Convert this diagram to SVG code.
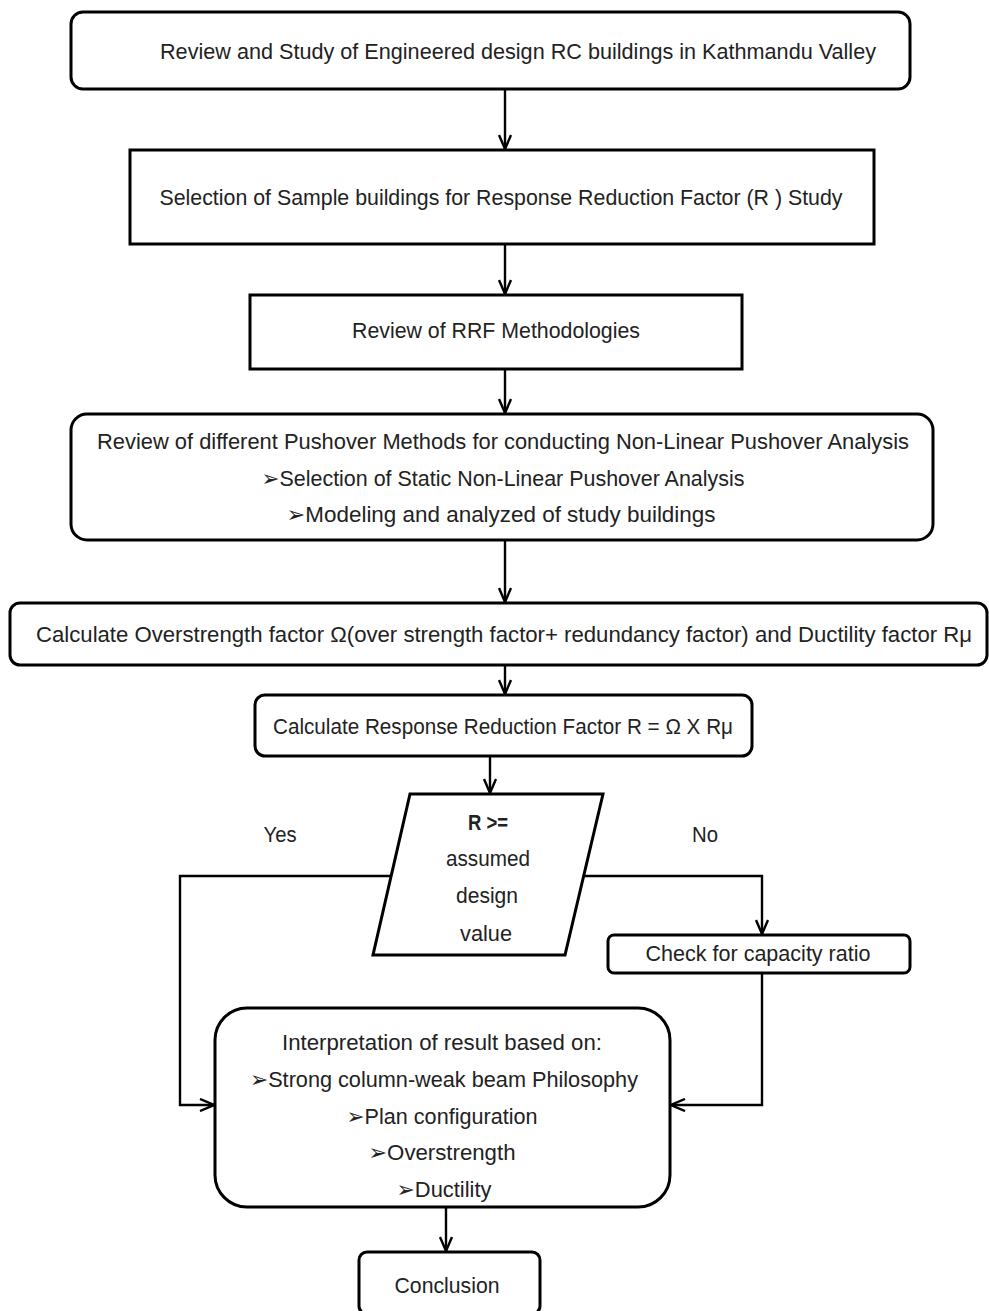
<svg xmlns="http://www.w3.org/2000/svg" width="989" height="1311" viewBox="0 0 989 1311">
<style>
.box{fill:#fff;stroke:#000;stroke-width:3}
.t{font-family:"Liberation Sans","DejaVu Sans",sans-serif;font-size:22px;fill:#222;text-anchor:middle}
.c{fill:none;stroke:#000;stroke-width:2.4}
</style>
<defs>
<marker id="ar" viewBox="0 0 16 14" refX="15" refY="7" markerWidth="16" markerHeight="14" markerUnits="userSpaceOnUse" orient="auto">
<path d="M1,1 L15,7 L1,13" fill="none" stroke="#000" stroke-width="2.4"/>
</marker>
</defs>
<rect width="989" height="1311" fill="#fff"/>
<g id="connectors">
<line class="c" x1="505" y1="89" x2="505" y2="149" marker-end="url(#ar)"/>
<line class="c" x1="505" y1="244" x2="505" y2="294" marker-end="url(#ar)"/>
<line class="c" x1="505" y1="369" x2="505" y2="413" marker-end="url(#ar)"/>
<line class="c" x1="505" y1="540" x2="505" y2="602" marker-end="url(#ar)"/>
<line class="c" x1="505" y1="665" x2="505" y2="694" marker-end="url(#ar)"/>
<line class="c" x1="490" y1="756" x2="490" y2="793" marker-end="url(#ar)"/>
<polyline class="c" points="391,876 180,876 180,1105 214,1105" marker-end="url(#ar)"/>
<polyline class="c" points="584,876 762,876 762,934" marker-end="url(#ar)"/>
<polyline class="c" points="762,973 762,1105 671,1105" marker-end="url(#ar)"/>
<line class="c" x1="446" y1="1207" x2="446" y2="1251" marker-end="url(#ar)"/>
</g>
<g id="n1">
<rect class="box" x="71" y="12" width="839" height="77" rx="12"/>
<text class="t" x="518" y="59" textLength="716" lengthAdjust="spacingAndGlyphs">Review  and Study of  Engineered design RC buildings in Kathmandu  Valley</text>
</g>
<g id="n2">
<rect class="box" x="130" y="150" width="744" height="94"/>
<text class="t" x="501" y="205" textLength="683" lengthAdjust="spacingAndGlyphs">Selection of Sample buildings for Response Reduction Factor (R ) Study</text>
</g>
<g id="n3">
<rect class="box" x="250" y="295" width="492" height="74"/>
<text class="t" x="496" y="338" textLength="288" lengthAdjust="spacingAndGlyphs">Review of RRF  Methodologies</text>
</g>
<g id="n4">
<rect class="box" x="71" y="414" width="862" height="126" rx="16"/>
<text class="t" x="503" y="449" textLength="812" lengthAdjust="spacingAndGlyphs">Review of different Pushover Methods for conducting Non-Linear  Pushover Analysis</text>
<text class="t" x="503" y="486" textLength="483" lengthAdjust="spacingAndGlyphs">➢Selection of Static  Non-Linear Pushover Analysis</text>
<text class="t" x="501" y="522" textLength="429" lengthAdjust="spacingAndGlyphs">➢Modeling  and analyzed of  study  buildings</text>
</g>
<g id="n5">
<rect class="box" x="10" y="603" width="977" height="62" rx="10"/>
<text class="t" x="504" y="642" textLength="936" lengthAdjust="spacingAndGlyphs">Calculate Overstrength factor Ω(over strength  factor+ redundancy factor) and Ductility factor  Rμ</text>
</g>
<g id="n6">
<rect class="box" x="255" y="695" width="497" height="61" rx="10"/>
<text class="t" x="503" y="734" textLength="460" lengthAdjust="spacingAndGlyphs">Calculate Response Reduction Factor R = Ω X Rμ</text>
</g>
<g id="n7">
<polygon class="box" points="410,794 603,794 565,955 373,955"/>
<text class="t" x="488" y="830" textLength="40" lengthAdjust="spacingAndGlyphs" font-weight="bold">R &gt;=</text>
<text class="t" x="488" y="866" textLength="84" lengthAdjust="spacingAndGlyphs">assumed</text>
<text class="t" x="487" y="903" textLength="62" lengthAdjust="spacingAndGlyphs">design</text>
<text class="t" x="486" y="941" textLength="52" lengthAdjust="spacingAndGlyphs">value</text>
</g>
<g id="labels">
<text class="t" x="280" y="842" textLength="33" lengthAdjust="spacingAndGlyphs">Yes</text>
<text class="t" x="705" y="842" textLength="26" lengthAdjust="spacingAndGlyphs">No</text>
</g>
<g id="n8">
<rect class="box" x="608" y="935" width="302" height="38" rx="6"/>
<text class="t" x="758" y="961" textLength="225" lengthAdjust="spacingAndGlyphs">Check for capacity ratio</text>
</g>
<g id="n9">
<rect class="box" x="215" y="1008" width="455" height="199" rx="32"/>
<text class="t" x="442" y="1050" textLength="320" lengthAdjust="spacingAndGlyphs">Interpretation of result based on:</text>
<text class="t" x="444" y="1087" textLength="388" lengthAdjust="spacingAndGlyphs">➢Strong column-weak beam Philosophy</text>
<text class="t" x="442" y="1124" textLength="191" lengthAdjust="spacingAndGlyphs">➢Plan configuration</text>
<text class="t" x="442" y="1160" textLength="147" lengthAdjust="spacingAndGlyphs">➢Overstrength</text>
<text class="t" x="444" y="1197" textLength="95" lengthAdjust="spacingAndGlyphs">➢Ductility</text>
</g>
<g id="n10">
<rect class="box" x="359" y="1252" width="181" height="62" rx="8"/>
<text class="t" x="447" y="1293" textLength="105" lengthAdjust="spacingAndGlyphs">Conclusion</text>
</g>
</svg>
